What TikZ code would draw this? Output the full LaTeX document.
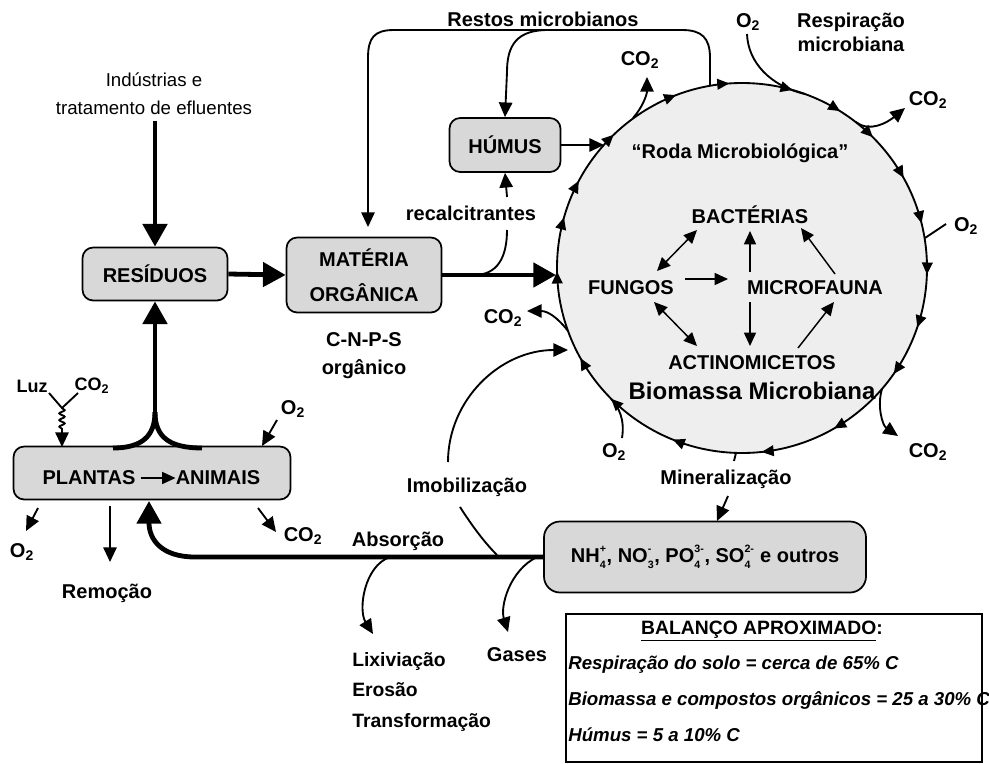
\documentclass[tikz,border=0pt]{standalone}
\usepackage{fontspec}
\setmainfont{Liberation Sans}
\usetikzlibrary{arrows.meta,decorations.markings,decorations.pathmorphing}
\definecolor{boxgray}{RGB}{216,216,216}
\definecolor{wheelgray}{RGB}{238,238,238}
\newsavebox\sbA
\newsavebox\sbB
\newcommand{\subsup}[2]{\sbox\sbA{\fontsize{8}{8}\selectfont #1}\sbox\sbB{\fontsize{8}{8}\selectfont #2}%
  \ifdim\wd\sbA>\wd\sbB\relax\def\sbw{\wd\sbA}\else\def\sbw{\wd\sbB}\fi
  \makebox[\sbw][l]{\rlap{\raisebox{-0.55ex}{\usebox\sbA}}\raisebox{0.95ex}{\usebox\sbB}}\kern0.5pt\relax}
\newcommand{\co}{CO\textsubscript{2}}
\newcommand{\oo}{O\textsubscript{2}}
\begin{document}
\begin{tikzpicture}[x=0.75pt,y=-0.75pt,
  lbl/.style={font=\fontsize{15}{18}\selectfont\bfseries, inner sep=0pt, align=center},
  slbl/.style={font=\fontsize{13.5}{16}\selectfont\bfseries, inner sep=0pt, align=center},
  reg/.style={font=\fontsize{14}{21}\selectfont, inner sep=0pt, align=center},
  big/.style={font=\fontsize{18}{21}\selectfont\bfseries, inner sep=0pt},
  ital/.style={font=\fontsize{14}{17}\selectfont\bfseries\itshape, inner sep=0pt, anchor=west},
  box/.style={draw, line width=1.3pt, rounded corners=8pt, fill=boxgray, font=\fontsize{15}{26}\selectfont\bfseries, align=center, inner sep=0pt},
  thin/.style={line width=1.4pt},
  tarr/.style={line width=1.4pt, -{Triangle[length=11pt,width=10pt]}},
  iarr/.style={line width=1.1pt, -{Triangle[length=10pt,width=9pt]}},
  idarr/.style={line width=1.1pt, {Triangle[length=10pt,width=9pt]}-{Triangle[length=10pt,width=9pt]}},
  bigarr/.style={line width=3.6pt, -{Triangle[length=17pt,width=18pt]}},
  bigline/.style={line width=3.6pt},
]
\fill[white] (0,0) rectangle (989,764);
\useasboundingbox (0,0) rectangle (989,764);

% ---------- wheel ----------
\coordinate (wc) at (742,268);
\draw[fill=wheelgray, line width=1.4pt, postaction={decorate},
  decoration={markings,
   mark=at position 0.0056 with {\arrow{Triangle[length=9pt,width=8pt]}},
   mark=at position 0.052 with {\arrow{Triangle[length=9pt,width=8pt]}},
   mark=at position 0.097 with {\arrow{Triangle[length=9pt,width=8pt]}},
   mark=at position 0.167 with {\arrow{Triangle[length=9pt,width=8pt]}},
   mark=at position 0.233 with {\arrow{Triangle[length=9pt,width=8pt]}},
   mark=at position 0.311 with {\arrow{Triangle[length=9pt,width=8pt]}},
   mark=at position 0.375 with {\arrow{Triangle[length=9pt,width=8pt]}},
   mark=at position 0.419 with {\arrow{Triangle[length=9pt,width=8pt]}},
   mark=at position 0.497 with {\arrow{Triangle[length=9pt,width=8pt]}},
   mark=at position 0.544 with {\arrow{Triangle[length=9pt,width=8pt]}},
   mark=at position 0.578 with {\arrow{Triangle[length=9pt,width=8pt]}},
   mark=at position 0.628 with {\arrow{Triangle[length=9pt,width=8pt]}},
   mark=at position 0.692 with {\arrow{Triangle[length=9pt,width=8pt]}},
   mark=at position 0.739 with {\arrow{Triangle[length=9pt,width=8pt]}},
   mark=at position 0.794 with {\arrow{Triangle[length=9pt,width=8pt]}},
   mark=at position 0.839 with {\arrow{Triangle[length=9pt,width=8pt]}},
   mark=at position 0.875 with {\arrow{Triangle[length=9pt,width=8pt]}},
   mark=at position 0.919 with {\arrow{Triangle[length=9pt,width=8pt]}},
   mark=at position 0.961 with {\arrow{Triangle[length=9pt,width=8pt]}}}]
  (wc) circle[radius=185];

\node[lbl] (roda) at (740,153) {“Roda Microbiológica”};
\node[lbl] (bac) at (750,215) {BACTÉRIAS};
\node[lbl] (fun) at (631,288) {FUNGOS};
\node[lbl] (mic) at (815,288) {MICROFAUNA};
\node[lbl] (act) at (752,363) {ACTINOMICETOS};
\node[big] (bio) at (752,391) {Biomassa Microbiana};

\draw[idarr] (657,271) -- (697,230);
\draw[iarr] (685,279) -- (728,279);
\draw[iarr] (750,272) -- (750,231);
\draw[iarr] (750,302) -- (750,346);
\draw[idarr] (654,302) -- (697,346);
\draw[iarr] (798,348) -- (834,302);
\draw[iarr] (835,274) -- (801,228);

% ---------- boxes ----------
\node[box, minimum width=145*0.75pt, minimum height=53*0.75pt] (res) at (155,274) {RESÍDUOS};
\node[box, minimum width=155*0.75pt, minimum height=75*0.75pt] (mat) at (364,275) {MATÉRIA\\ORGÂNICA};
\node[box, minimum width=111*0.75pt, minimum height=54*0.75pt] (hum) at (505,145) {HÚMUS};
\node[box, minimum width=277*0.75pt, minimum height=53*0.75pt] (pla) at (152,473) {};
\node[box, rounded corners=12pt, minimum width=322*0.75pt, minimum height=71*0.75pt] (nh) at (705,557)
  {NH\subsup{4}{+}, NO\subsup{3}{-}, PO\subsup{4}{3-}, SO\subsup{4}{2-} e outros};

\node[lbl] (plan) at (89,478) {PLANTAS};
\node[lbl] (anim) at (218,478) {ANIMAIS};
\draw[iarr] (plan.east) ++(5,0) coordinate (pa) -- (anim.west);

% ---------- labels ----------
\node[reg] (ind) at (154,94) {Indústrias e\\tratamento de efluentes};
\node[lbl] (restos) at (543,19) {Restos microbianos};
\node[lbl] (recal) at (471,213) {recalcitrantes};
\node[lbl] (cnps) at (364,356) {C-N-P-S\\[3pt]orgânico};
\node[lbl] (co2t) at (640,60) {\co};
\node[lbl] (o2t) at (748,22) {\oo};
\node[lbl] (resp) at (851,32) {Respiração\\microbiana};
\node[lbl] (co2r) at (928,100) {\co};
\node[lbl] (o2r) at (966,226) {\oo};
\node[lbl] (co2br) at (928,452) {\co};
\node[lbl] (o2b) at (614,452) {\oo};
\node[lbl] (co2l) at (503,318) {\co};
\node[lbl] (mine) at (726,479) {Mineralização};
\node[lbl] (imob) at (467,487) {Imobilização};
\node[lbl] (abs) at (398,541) {Absorção};
\node[lbl, align=left, anchor=north west, font=\fontsize{14.5}{23}\selectfont\bfseries] (lix) at (352,652) {Lixiviação\\Erosão\\Transformação};
\node[lbl] (gas) at (517,655) {Gases};
\node[lbl] (rem) at (107,593) {Remoção};
\node[lbl] (o2bl) at (22,552) {\oo};
\node[lbl] (co2p) at (303,536) {\co};
\node[lbl] (o2p) at (293,409) {\oo};
\node[slbl] (luz) at (32,386) {Luz};
\node[slbl] (co2luz) at (92,386) {\co};

% ---------- thick flows ----------
\coordinate (indA) at (155,121);
\draw[bigarr] (indA) -- (res.north);
\draw[bigarr] (res.east) -- (mat.west);
\coordinate (wL) at (556,275);
\draw[bigarr] (mat.east) -- (wL);
\coordinate (yJ) at (155,412);
\coordinate (yL) at (113,448);
\coordinate (yR) at (202,448);
\draw[bigarr] (yJ) -- (res.south);
\draw[bigline] (yL) .. controls (142,448) and (155,436) .. (yJ);
\draw[bigline] (yR) .. controls (168,448) and (155,436) .. (yJ);
\coordinate (absT) at (149,501);
\draw[bigarr] (nh.west) -- (195,557) .. controls (162,557) and (149,540) .. (absT);

% ---------- restos microbianos ----------
\coordinate (wTop) at (710,86);
\coordinate (rJ) at (548,30);
\coordinate (matT) at (368,227);
\draw[tarr] (wTop) -- (710,58) .. controls (710,38) and (702,30) .. (682,30) -- (394,30)
  .. controls (374,30) and (368,38) .. (368,58) -- (matT);
\draw[tarr] (rJ) .. controls (517,30) and (507,45) .. (507,72) -- (hum.north);
\coordinate (wH) at (604,145);
\draw[tarr] (hum.east) -- (wH);
\coordinate (recT) at (507,197);
\draw[tarr] (recT) -- (hum.south);
\coordinate (recB) at (507,230);
\draw[thin] (recB) .. controls (507,258) and (497,275) .. (474,275);

% ---------- gas exchanges at wheel ----------
\coordinate (wCO2t) at (633,118);
\draw[tarr] (wCO2t) .. controls (642,108) and (647,95) .. (647,77);
\coordinate (o2tS) at (747,34);
\coordinate (wO2t) at (805,94);
\draw[thin] (o2tS) .. controls (748,62) and (770,86) .. (wO2t);
\coordinate (wCO2r) at (856,122);
\draw[tarr] (wCO2r) .. controls (870,133) and (888,122) .. (905,108);
\coordinate (wO2r) at (925,238);
\draw[thin] (wO2r) -- (946,224);
\coordinate (wCO2br) at (882,389);
\draw[tarr] (wCO2br) .. controls (877,405) and (882,425) .. (898,436);
\coordinate (o2bS) at (622,438);
\coordinate (wO2b) at (611,399);
\draw[thin] (o2bS) .. controls (625,420) and (619,407) .. (wO2b);
\coordinate (wCO2l) at (568,331);
\draw[tarr] (wCO2l) .. controls (558,318) and (548,311) .. (527,311);
\coordinate (wMin) at (736,453);
\draw[thin] (wMin) -- (734,461);
\coordinate (minA) at (728,496);
\draw[tarr] (minA) -- (717,521);

% ---------- imobilizacao ----------
\coordinate (imU) at (448,462);
\coordinate (wIm) at (568,350);
\draw[tarr] (imU) .. controls (448,400) and (500,350) .. (wIm);
\coordinate (imL) at (460,507);
\coordinate (imE) at (497,555);
\draw[thin] (imL) .. controls (471,524) and (483,541) .. (imE);

% ---------- losses ----------
\coordinate (lixS) at (390,557);
\draw[tarr] (lixS) .. controls (364,566) and (358,610) .. (373,634);
\coordinate (gasS) at (537,557);
\draw[tarr] (gasS) .. controls (510,570) and (500,606) .. (508,632);

% ---------- plants exchanges ----------
\coordinate (luzJ) at (62,408);
\draw[thin] (49,393) -- (luzJ) -- (78,393);
\draw[thin, decorate, decoration={snake, amplitude=2pt, segment length=5pt}] (luzJ) -- (62,432);
\draw[tarr] (62,431) -- (62,447);
\draw[tarr] (277,420) -- (262,446);
\draw[tarr] (38,508) -- (26,531);
\draw[tarr] (110,506) -- (110,562);
\draw[tarr] (258,508) -- (276,532);

% ---------- balance box ----------
\draw[line width=1.5pt] (566,614) rectangle (982,762);
\node[lbl, font=\fontsize{14.5}{17}\selectfont\bfseries] (bal) at (762,631) {\underline{BALANÇO APROXIMADO}:};
\node[ital] (b1) at (568,665) {Respiração do solo = cerca de 65\% C};
\node[ital] (b2) at (568,700) {Biomassa e compostos orgânicos = 25 a 30\% C};
\node[ital] (b3) at (568,735) {Húmus = 5 a 10\% C};
\end{tikzpicture}
\end{document}
